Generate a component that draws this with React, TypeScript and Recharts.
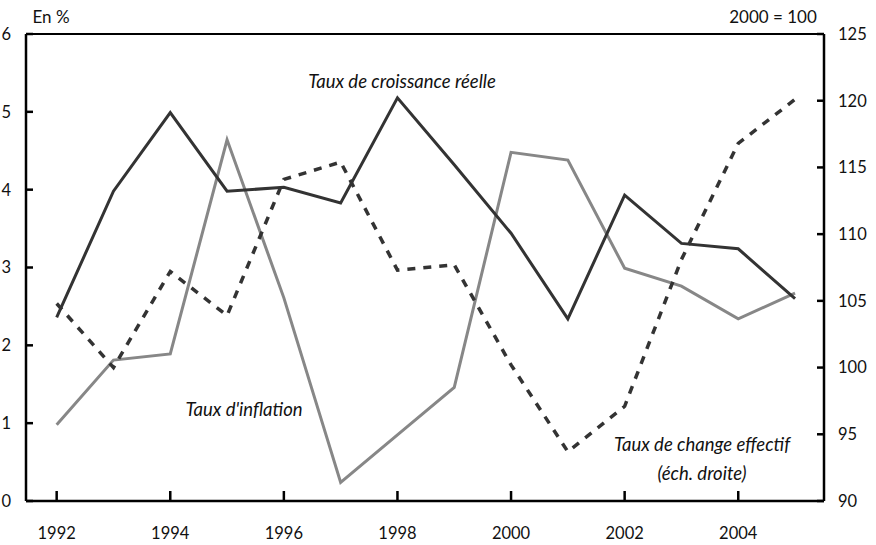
import React from "react";
import { LineChart, Line, XAxis, YAxis, ReferenceLine } from "recharts";

const years = [1992, 1993, 1994, 1995, 1996, 1997, 1998, 1999, 2000, 2001, 2002, 2003, 2004, 2005];
const croissance = [2.36, 3.98, 4.99, 3.98, 4.03, 3.83, 5.18, 4.32, 3.44, 2.34, 3.93, 3.31, 3.24, 2.6];
const inflation = [0.98, 1.81, 1.89, 4.64, 2.61, 0.24, 0.85, 1.46, 4.48, 4.38, 2.99, 2.76, 2.34, 2.67];
const change = [104.8, 100.0, 107.2, 103.9, 114.1, 115.4, 107.3, 107.7, 100.2, 93.7, 97.1, 108.1, 116.8, 120.1];

const xTicks = [1992, 1994, 1996, 1998, 2000, 2002, 2004];
const leftTicks = [0, 1, 2, 3, 4, 5, 6];
const rightTicks = [90, 95, 100, 105, 110, 115, 120, 125];

const data = years.map((y, i) => ({
  year: y,
  croissance: croissance[i],
  inflation: inflation[i],
  change: change[i],
}));

const FONT = "Lato, 'Open Sans', sans-serif";
const tickStyle = { fontSize: 16.5, fill: "#111", fontFamily: FONT };
const axisStroke = { stroke: "#000", strokeWidth: 2.5 };

const note: React.CSSProperties = {
  position: "absolute",
  fontFamily: FONT,
  fontSize: 18.5,
  fontStyle: "italic",
  color: "#111",
  whiteSpace: "nowrap",
  lineHeight: "20px",
  transform: "translateX(-50%)",
};

export default function App() {
  return (
    <div style={{ position: "absolute", left: 0, top: 0, width: 876, height: 545, background: "#fff" }}>
      <LineChart width={876} height={545} data={data} margin={{ top: 34, right: 0, bottom: 0, left: 0 }}>
        <XAxis
          dataKey="year"
          type="number"
          domain={[1991.46, 2005.51]}
          ticks={xTicks}
          allowDataOverflow
          height={44}
          tick={tickStyle}
          axisLine={axisStroke}
          tickLine={axisStroke}
          tickSize={-10}
          tickMargin={36}
        />
        <YAxis
          yAxisId="left"
          domain={[0, 6]}
          ticks={leftTicks}
          width={26}
          tick={tickStyle}
          axisLine={axisStroke}
          tickLine={axisStroke}
          tickSize={-7}
          tickMargin={22}
        />
        <YAxis
          yAxisId="right"
          orientation="right"
          domain={[90, 125]}
          ticks={rightTicks}
          width={52}
          tick={{ ...tickStyle, textAnchor: "start" }}
          axisLine={axisStroke}
          tickLine={axisStroke}
          tickSize={-7}
          tickMargin={21}
        />
        <ReferenceLine yAxisId="left" y={6} stroke="#000" strokeWidth={2} />
        <Line
          yAxisId="left"
          dataKey="inflation"
          stroke="#878787"
          strokeWidth={3}
          dot={false}
          isAnimationActive={false}
        />
        <Line
          yAxisId="left"
          dataKey="croissance"
          stroke="#333"
          strokeWidth={3}
          dot={false}
          isAnimationActive={false}
        />
        <Line
          yAxisId="right"
          dataKey="change"
          stroke="#333"
          strokeWidth={3.5}
          strokeDasharray="8 8"
          dot={false}
          isAnimationActive={false}
        />
      </LineChart>
      <div style={{ ...note, fontStyle: "normal", fontSize: 17, left: 51, top: 7 }}>En %</div>
      <div style={{ ...note, fontStyle: "normal", fontSize: 17, left: 773, top: 7 }}>2000 = 100</div>
      <div style={{ ...note, left: 402, top: 71 }}>Taux de croissance réelle</div>
      <div style={{ ...note, left: 244, top: 399 }}>Taux d'inflation</div>
      <div style={{ ...note, left: 702, top: 434 }}>Taux de change effectif</div>
      <div style={{ ...note, left: 702, top: 463 }}>(éch. droite)</div>
    </div>
  );
}
